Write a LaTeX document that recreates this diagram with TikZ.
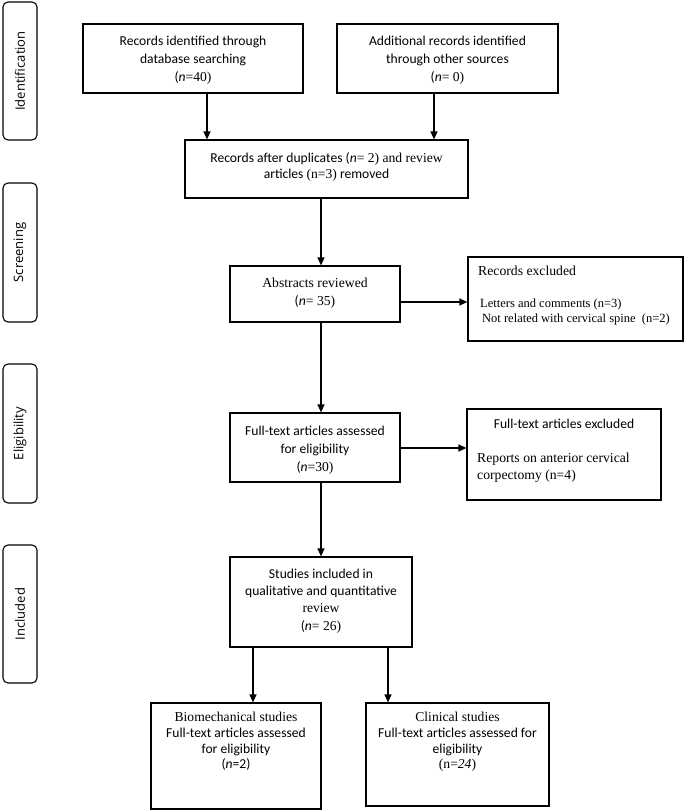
\documentclass[tikz,border=0pt]{standalone}
\usepackage{fontspec}
\setmainfont{Liberation Serif}
\newfontfamily\calib{Carlito}
\newfontfamily\osans{Open Sans}
\usetikzlibrary{arrows.meta}
\newcommand\rmtxt[1]{{\rmfamily #1}}
\newcommand\catxt[1]{{\calib #1}}
\tikzset{
  box/.style={draw, line width=1.2pt, inner sep=0pt},
  side/.style={draw, line width=1.1pt, rounded corners=5pt, inner sep=0pt, font=\osans\fontsize{13}{15}\selectfont},
  arr/.style={line width=1.3pt, -{Triangle[length=8pt,width=7pt]}},
  ctxt/.style={align=center, inner sep=0pt, font=\calib\fontsize{13.6}{18}\selectfont},
  ttxt/.style={align=center, inner sep=0pt, font=\rmfamily\fontsize{13.7}{18}\selectfont},
  ltxt/.style={inner sep=0pt, anchor=base west, font=\rmfamily\fontsize{13.7}{16}\selectfont},
  stxt/.style={inner sep=0pt, anchor=base west, font=\rmfamily\fontsize{12.5}{15}\selectfont},
}
\begin{document}
\begin{tikzpicture}[x=1pt,y=-1pt]
\useasboundingbox (0,0) rectangle (685,811);
% side labels
\node[side, rotate=90, minimum width=138pt, minimum height=34pt] (sid) at (20,71) {Identification};
\node[side, rotate=90, minimum width=139pt, minimum height=34pt] (sscr) at (20,252.5) {Screening};
\node[side, rotate=90, minimum width=139pt, minimum height=34pt] (selg) at (20,433.5) {Eligibility};
\node[side, rotate=90, minimum width=138pt, minimum height=34pt] (sinc) at (20,614) {Included};
% boxes
\node[box, minimum width=220pt, minimum height=69pt] (b1) at (193,58.5) {};
\node[box, minimum width=221pt, minimum height=69pt] (b2) at (447.5,58.5) {};
\node[box, minimum width=283pt, minimum height=58pt] (b3) at (326.5,169) {};
\node[box, minimum width=170pt, minimum height=56pt] (abs) at (315,294) {};
\node[box, minimum width=215pt, minimum height=84pt] (rex) at (575.5,299) {};
\node[box, minimum width=170pt, minimum height=69pt] (ft) at (315,447.5) {};
\node[box, minimum width=194pt, minimum height=91pt] (fex) at (564,454.5) {};
\node[box, minimum width=182pt, minimum height=90pt] (stu) at (321,602) {};
\node[box, minimum width=170pt, minimum height=106pt] (bio) at (236,756) {};
\node[box, minimum width=183pt, minimum height=103pt] (cli) at (457.5,754.5) {};
% texts
\node[ctxt] (t1) at (193,60) {Records identified through\\database searching\\(\textit{n}\rmtxt{=40)}};
\node[ctxt] (t2) at (447.5,60) {Additional records identified\\through other sources\\(\textit{n}\rmtxt{= 0)}};
\node[ctxt, font=\calib\fontsize{13.6}{16.5}\selectfont] (t3) at (326.5,167) {Records after duplicates (\textit{n}\rmtxt{= 2) and review}\\articles \rmtxt{(n=3)} removed};
\node[ttxt] (tabs) at (315,293) {Abstracts reviewed\\\catxt{(\textit{n}}= 35)};
\node[ltxt] (trex1) at (478,275) {Records excluded};
\node[stxt] (trex2) at (480,307) {Letters and comments (n=3)};
\node[stxt] (trex3) at (482,322) {Not related with cervical spine\ \ (n=2)};
\node[ctxt] (tft) at (315,450) {Full-text articles assessed\\for eligibility\\(\textit{n}\rmtxt{=30)}};
\node[ctxt, anchor=base] (tfex1) at (564,428) {Full-text articles excluded};
\node[ltxt] (tfex2) at (477,462) {Reports on anterior cervical};
\node[ltxt] (tfex3) at (477,479) {corpectomy (n=4)};
\node[ctxt, font=\calib\fontsize{13.6}{17.3}\selectfont] (tstu) at (321,601) {Studies included in\\qualitative and quantitative\\\rmtxt{review}\\(\textit{n}\rmtxt{= 26)}};
\node[ctxt, anchor=north, font=\calib\fontsize{13.6}{15.7}\selectfont] (tbio) at (236,712) {\rmtxt{Biomechanical studies}\\Full-text articles assessed\\for eligibility\\(\textit{n}=2)};
\node[ctxt, anchor=north, font=\calib\fontsize{13.6}{15.7}\selectfont] (tcli) at (457.5,712) {\rmtxt{Clinical studies}\\Full-text articles assessed for\\eligibility\\\rmtxt{(n=\textit{24})}};
% arrows
\coordinate (a1) at ([xshift=14pt]b1.south);
\draw[arr] (a1) -- (a1 |- b3.north);
\coordinate (a2) at ([xshift=-13.5pt]b2.south);
\draw[arr] (a2) -- (a2 |- b3.north);
\coordinate (a3) at ([xshift=6pt]abs.north);
\draw[arr] (a3 |- b3.south) -- (a3);
\draw[arr] (a3 |- abs.south) -- (a3 |- ft.north);
\draw[arr] (a3 |- ft.south) -- (a3 |- stu.north);
\coordinate (a4) at ([yshift=-8pt]abs.east);
\draw[arr] (a4) -- (a4 -| rex.west);
\coordinate (a7) at ([yshift=-0.5pt]ft.east);
\draw[arr] (a7) -- (a7 -| fex.west);
\coordinate (a5) at ([xshift=17pt]bio.north);
\draw[arr] (a5 |- stu.south) -- (a5);
\coordinate (a6) at ([xshift=-69.5pt]cli.north);
\draw[arr] (a6 |- stu.south) -- (a6);
\end{tikzpicture}
\end{document}
